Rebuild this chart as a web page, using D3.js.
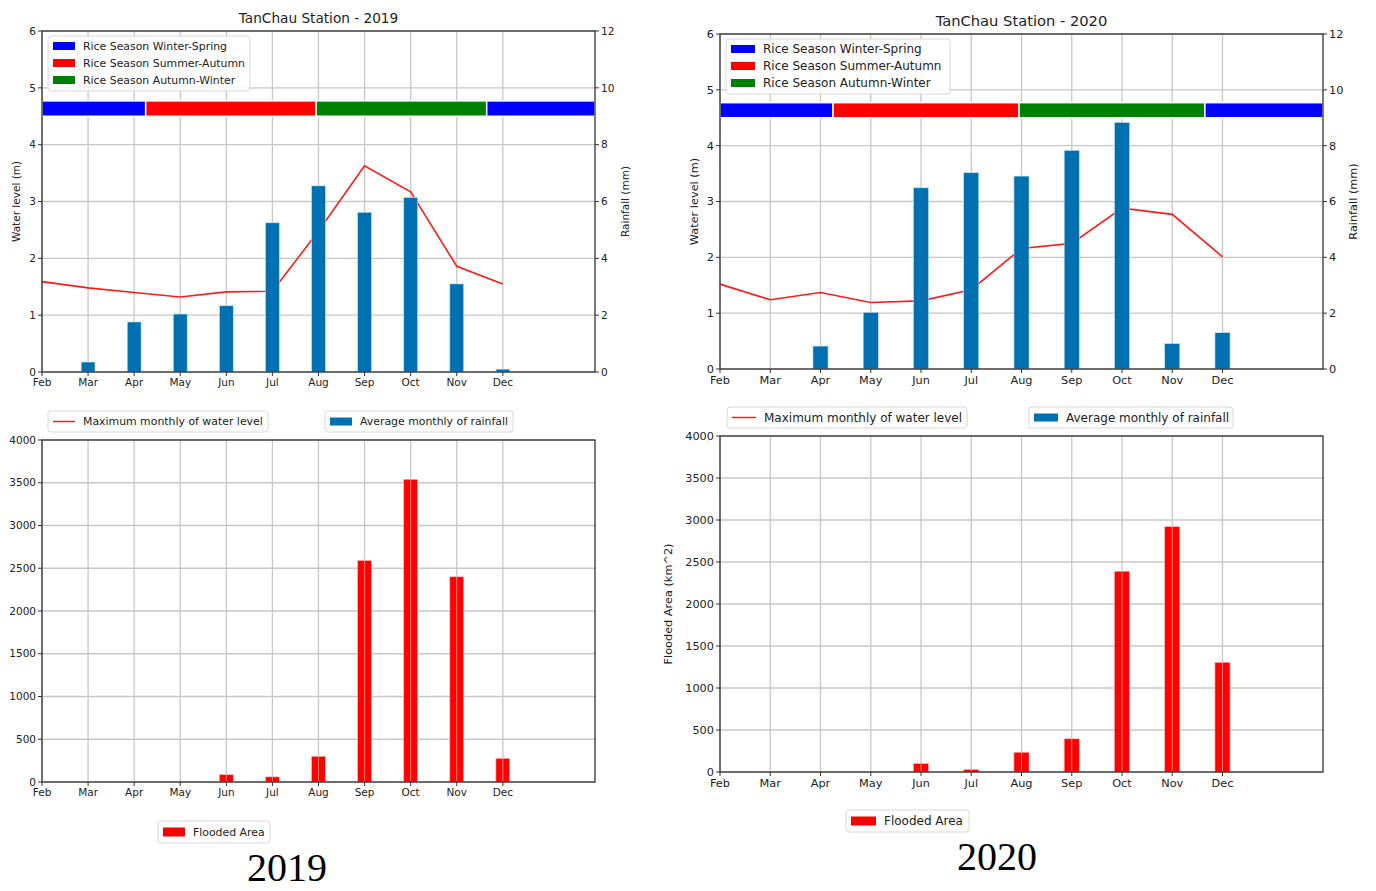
<!DOCTYPE html>
<html>
<head>
<meta charset="utf-8">
<script src="https://cdn.jsdelivr.net/npm/d3@7"></script>
<style>
    body { margin: 0; background: #fff; }
    text { font-family: "DejaVu Sans", sans-serif; fill: #222; }
</style>
</head>
<body>
<div id="chart"></div>
<script>
// month labels (index 0 = Feb), x domain runs 0..12
var months = ["Feb", "Mar", "Apr", "May", "Jun", "Jul", "Aug", "Sep", "Oct", "Nov", "Dec"];

// rainfall (mm, right axis) and max water level (m, left axis)
var rain2019 = [0, 0.35, 1.76, 2.04, 2.33, 5.25, 6.55, 5.62, 6.14, 3.1, 0.1];
var level2019 = [1.59, 1.48, 1.40, 1.32, 1.41, 1.42, 2.48, 3.63, 3.17, 1.86, 1.55];
var rain2020 = [0, 0, 0.82, 2.03, 6.49, 7.03, 6.91, 7.83, 8.83, 0.91, 1.30];
var level2020 = [1.52, 1.24, 1.37, 1.19, 1.22, 1.42, 2.16, 2.25, 2.88, 2.77, 2.01];

// flooded area (km^2)
var flood2019 = [0, 0, 0, 0, 85, 60, 300, 2590, 3540, 2400, 275];
var flood2020 = [0, 0, 0, 0, 100, 30, 235, 395, 2390, 2920, 1305];

// rice seasons, in month units from Feb
var seasonNames = ["Rice Season Winter-Spring", "Rice Season Summer-Autumn", "Rice Season Autumn-Winter"];
var seasonColors = ["#0000ff", "#ff0000", "#008000"];
var seasonSpans = [
    {s: 0, start: 0, end: 2.25},
    {s: 1, start: 2.25, end: 5.95},
    {s: 2, start: 5.95, end: 9.65},
    {s: 0, start: 9.65, end: 12}
];

var levelTicks = [0, 1, 2, 3, 4, 5, 6];
var rainTicks = [0, 2, 4, 6, 8, 10, 12];
var floodTicks = [0, 500, 1000, 1500, 2000, 2500, 3000, 3500, 4000];

var rainColor = "#0070b0";
var gridColor = "#c8c8c8";

var svg = d3.select("#chart").append("svg")
    .attr("width", 1376)
    .attr("height", 891);

function legendBox(g, x, y, w, h) {
    g.append("rect")
        .attr("x", x).attr("y", y).attr("width", w).attr("height", h)
        .attr("rx", 3)
        .style("fill", "#fff").style("fill-opacity", 0.85)
        .style("stroke", "#d8d8d8").style("stroke-width", 1);
}

function drawTop(p) {
    var g = svg.append("g");
    var x = d3.scaleLinear().domain([0, 12]).range([p.left, p.right]);
    var yL = d3.scaleLinear().domain([0, 6]).range([p.bottom, p.top]);
    var yR = d3.scaleLinear().domain([0, 12]).range([p.bottom, p.top]);
    var bw = x(0.3) - x(0);

    // grid
    g.selectAll(".vg").data(months).enter().append("line")
        .attr("x1", function (d, i) { return x(i); })
        .attr("x2", function (d, i) { return x(i); })
        .attr("y1", p.top).attr("y2", p.bottom)
        .style("stroke", gridColor).style("stroke-width", 1.3);
    g.selectAll(".hg").data(levelTicks).enter().append("line")
        .attr("x1", p.left).attr("x2", p.right)
        .attr("y1", function (d) { return yL(d); })
        .attr("y2", function (d) { return yL(d); })
        .style("stroke", gridColor).style("stroke-width", 1.3);

    // season bars
    g.selectAll(".season").data(seasonSpans).enter().append("rect")
        .attr("x", function (d) { return x(d.start); })
        .attr("width", function (d) { return x(d.end) - x(d.start); })
        .attr("y", yL(4.77))
        .attr("height", yL(4.5) - yL(4.77))
        .style("fill", function (d) { return seasonColors[d.s]; })
        .style("stroke", "#fff").style("stroke-width", 1.5);

    // water level line (behind bars)
    var line = d3.line()
        .x(function (d, i) { return x(i); })
        .y(function (d) { return yL(d); });
    g.append("path").datum(p.level)
        .attr("d", line)
        .style("fill", "none").style("stroke", "#ff1a1a").style("stroke-width", 1.6);

    // rainfall bars
    g.selectAll(".rain").data(p.rain).enter().append("rect")
        .attr("x", function (d, i) { return x(i) - bw / 2; })
        .attr("width", bw)
        .attr("y", function (d) { return yR(d); })
        .attr("height", function (d) { return yR(0) - yR(d); })
        .style("fill", rainColor)
        .style("stroke", "#bfe0f2").style("stroke-width", 0.6);

    // frame
    g.append("rect")
        .attr("x", p.left).attr("y", p.top)
        .attr("width", p.right - p.left).attr("height", p.bottom - p.top)
        .style("fill", "none").style("stroke", "#333").style("stroke-width", 1.3);

    // left axis
    g.selectAll(".lt").data(levelTicks).enter().append("line")
        .attr("x1", p.left - 4).attr("x2", p.left)
        .attr("y1", function (d) { return yL(d); })
        .attr("y2", function (d) { return yL(d); })
        .style("stroke", "#333");
    g.selectAll(".ll").data(levelTicks).enter().append("text")
        .attr("x", p.left - 6)
        .attr("y", function (d) { return yL(d); })
        .attr("dy", "0.35em")
        .attr("text-anchor", "end")
        .style("font-size", p.fs + "px")
        .text(function (d) { return d; });
    // right axis
    g.selectAll(".rt").data(rainTicks).enter().append("line")
        .attr("x1", p.right).attr("x2", p.right + 4)
        .attr("y1", function (d) { return yR(d); })
        .attr("y2", function (d) { return yR(d); })
        .style("stroke", "#333");
    g.selectAll(".rl").data(rainTicks).enter().append("text")
        .attr("x", p.right + 6)
        .attr("y", function (d) { return yR(d); })
        .attr("dy", "0.35em")
        .style("font-size", p.fs + "px")
        .text(function (d) { return d; });
    // x axis
    g.selectAll(".xt").data(months).enter().append("line")
        .attr("x1", function (d, i) { return x(i); })
        .attr("x2", function (d, i) { return x(i); })
        .attr("y1", p.bottom).attr("y2", p.bottom + 4)
        .style("stroke", "#333");
    g.selectAll(".xl").data(months).enter().append("text")
        .attr("x", function (d, i) { return x(i); })
        .attr("y", p.bottom + 6)
        .attr("dy", "0.8em")
        .attr("text-anchor", "middle")
        .style("font-size", p.fs + "px")
        .text(function (d) { return d; });

    // titles
    g.append("text")
        .attr("x", (p.left + p.right) / 2).attr("y", p.top - 8)
        .attr("text-anchor", "middle")
        .style("font-size", (p.fs * 1.3) + "px")
        .text("TanChau Station - " + p.year);
    g.append("text")
        .attr("transform", "translate(" + (p.left - 22) + "," + ((p.top + p.bottom) / 2) + ") rotate(-90)")
        .attr("text-anchor", "middle")
        .style("font-size", p.fs + "px")
        .text("Water level (m)");
    g.append("text")
        .attr("transform", "translate(" + (p.right + 34) + "," + ((p.top + p.bottom) / 2) + ") rotate(-90)")
        .attr("text-anchor", "middle")
        .style("font-size", p.fs + "px")
        .text("Rainfall (mm)");

    // season legend
    var lx = p.left + 6, ly = p.top + 5, rowH = 17;
    legendBox(g, lx, ly, p.legW, 55);
    seasonNames.forEach(function (name, i) {
        var cy = ly + 10 + i * rowH;
        g.append("rect")
            .attr("x", lx + 5).attr("y", cy - 4)
            .attr("width", p.patchW).attr("height", 8)
            .style("fill", seasonColors[i]);
        g.append("text")
            .attr("x", lx + 13 + p.patchW).attr("y", cy)
            .attr("dy", "0.35em")
            .style("font-size", p.lfs + "px")
            .text(name);
    });

    // legends under the chart
    var by = p.bottom + p.legGap;
    legendBox(g, p.leg1[0], by, p.leg1[1], 21);
    g.append("line")
        .attr("x1", p.leg1[0] + 5).attr("x2", p.leg1[0] + 5 + p.patchW)
        .attr("y1", by + 10.5).attr("y2", by + 10.5)
        .style("stroke", "#ff1a1a").style("stroke-width", 1.5);
    g.append("text")
        .attr("x", p.leg1[0] + 13 + p.patchW).attr("y", by + 10.5)
        .attr("dy", "0.35em")
        .style("font-size", p.lfs + "px")
        .text("Maximum monthly of water level");
    legendBox(g, p.leg2[0], by, p.leg2[1], 21);
    g.append("rect")
        .attr("x", p.leg2[0] + 5).attr("y", by + 6.5)
        .attr("width", p.patchW).attr("height", 8)
        .style("fill", rainColor);
    g.append("text")
        .attr("x", p.leg2[0] + 13 + p.patchW).attr("y", by + 10.5)
        .attr("dy", "0.35em")
        .style("font-size", p.lfs + "px")
        .text("Average monthly of rainfall");
}

function drawBottom(p) {
    var g = svg.append("g");
    var x = d3.scaleLinear().domain([0, 12]).range([p.left, p.right]);
    var y = d3.scaleLinear().domain([0, 4000]).range([p.bottom, p.top]);
    var bw = x(0.3) - x(0);

    g.selectAll(".vg").data(months).enter().append("line")
        .attr("x1", function (d, i) { return x(i); })
        .attr("x2", function (d, i) { return x(i); })
        .attr("y1", p.top).attr("y2", p.bottom)
        .style("stroke", gridColor).style("stroke-width", 1.3);
    g.selectAll(".hg").data(floodTicks).enter().append("line")
        .attr("x1", p.left).attr("x2", p.right)
        .attr("y1", function (d) { return y(d); })
        .attr("y2", function (d) { return y(d); })
        .style("stroke", gridColor).style("stroke-width", 1.3);

    var items = p.flood.map(function (v, i) { return {i: i, v: v}; })
        .filter(function (d) { return d.v > 0; });
    g.selectAll(".flood").data(items).enter().append("rect")
        .attr("x", function (d) { return x(d.i) - bw / 2; })
        .attr("width", bw)
        .attr("y", function (d) { return y(d.v); })
        .attr("height", function (d) { return y(0) - y(d.v); })
        .style("fill", "#ff0000")
        .style("stroke", "#ffb0b0").style("stroke-width", 0.6);
    g.selectAll(".fmid").data(items).enter().append("line")
        .attr("x1", function (d) { return x(d.i); })
        .attr("x2", function (d) { return x(d.i); })
        .attr("y1", function (d) { return y(d.v); })
        .attr("y2", y(0))
        .style("stroke", "#ff9a9a").style("stroke-width", 0.8);

    g.append("rect")
        .attr("x", p.left).attr("y", p.top)
        .attr("width", p.right - p.left).attr("height", p.bottom - p.top)
        .style("fill", "none").style("stroke", "#333").style("stroke-width", 1.3);

    g.selectAll(".lt").data(floodTicks).enter().append("line")
        .attr("x1", p.left - 4).attr("x2", p.left)
        .attr("y1", function (d) { return y(d); })
        .attr("y2", function (d) { return y(d); })
        .style("stroke", "#333");
    g.selectAll(".ll").data(floodTicks).enter().append("text")
        .attr("x", p.left - 6)
        .attr("y", function (d) { return y(d); })
        .attr("dy", "0.35em")
        .attr("text-anchor", "end")
        .style("font-size", p.fs + "px")
        .text(function (d) { return d; });
    g.selectAll(".xt").data(months).enter().append("line")
        .attr("x1", function (d, i) { return x(i); })
        .attr("x2", function (d, i) { return x(i); })
        .attr("y1", p.bottom).attr("y2", p.bottom + 4)
        .style("stroke", "#333");
    g.selectAll(".xl").data(months).enter().append("text")
        .attr("x", function (d, i) { return x(i); })
        .attr("y", p.bottom + 6)
        .attr("dy", "0.8em")
        .attr("text-anchor", "middle")
        .style("font-size", p.fs + "px")
        .text(function (d) { return d; });

    if (p.ylabel) {
        g.append("text")
            .attr("transform", "translate(" + (p.left - 48) + "," + ((p.top + p.bottom) / 2) + ") rotate(-90)")
            .attr("text-anchor", "middle")
            .style("font-size", p.fs + "px")
            .text(p.ylabel);
    }

    var by = p.bottom + p.legGap;
    legendBox(g, p.leg[0], by, p.leg[1], 22);
    g.append("rect")
        .attr("x", p.leg[0] + 5).attr("y", by + 6.5)
        .attr("width", p.patchW).attr("height", 9)
        .style("fill", "#ff0000");
    g.append("text")
        .attr("x", p.leg[0] + 13 + p.patchW).attr("y", by + 11)
        .attr("dy", "0.35em")
        .style("font-size", p.lfs + "px")
        .text("Flooded Area");

    svg.append("text")
        .attr("x", p.capX).attr("y", p.capY)
        .attr("text-anchor", "middle")
        .style("font-family", "'Liberation Serif', 'DejaVu Serif', serif")
        .style("font-size", "40px")
        .style("fill", "#000")
        .text(p.year);
}

drawTop({year: "2019", left: 42, right: 595, top: 31, bottom: 372, fs: 10.5, lfs: 10.9, patchW: 22,
    rain: rain2019, level: level2019, legW: 202, legGap: 39,
    leg1: [48, 220], leg2: [325, 188]});
drawTop({year: "2020", left: 720, right: 1323, top: 34, bottom: 369, fs: 11.3, lfs: 12, patchW: 24,
    rain: rain2020, level: level2020, legW: 224, legGap: 38,
    leg1: [727, 240], leg2: [1029, 204]});

drawBottom({year: "2019", left: 42, right: 595, top: 440, bottom: 782, fs: 10.5, lfs: 10.9, patchW: 22,
    flood: flood2019, legGap: 39, leg: [158, 112], capX: 287, capY: 881});
drawBottom({year: "2020", left: 720, right: 1323, top: 436, bottom: 772, fs: 11.3, lfs: 12, patchW: 25,
    flood: flood2020, legGap: 38, leg: [846, 123], capX: 997, capY: 870,
    ylabel: "Flooded Area (km^2)"});
</script>
</body>
</html>
